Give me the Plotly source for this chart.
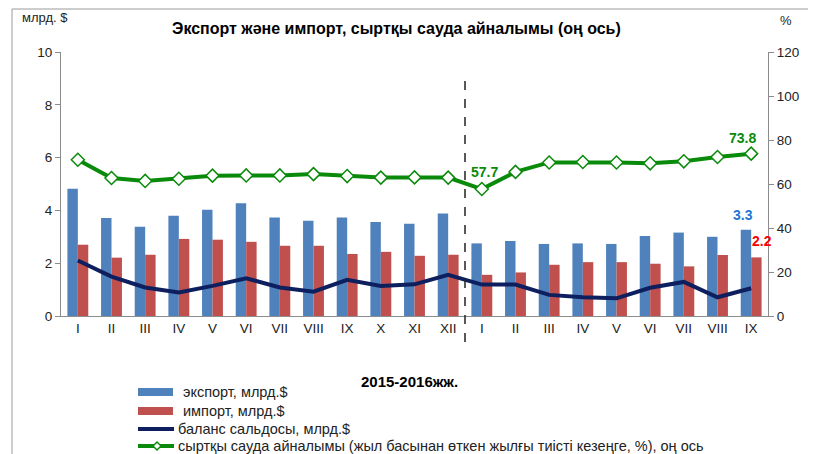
import plotly.graph_objects as go

months = ["I", "II", "III", "IV", "V", "VI", "VII", "VIII", "IX", "X", "XI", "XII",
          "I", "II", "III", "IV", "V", "VI", "VII", "VIII", "IX"]
export = [4.82, 3.71, 3.38, 3.80, 4.02, 4.27, 3.73, 3.61, 3.73, 3.56, 3.49, 3.88,
          2.75, 2.84, 2.73, 2.75, 2.73, 3.03, 3.16, 3.00, 3.27]
imports = [2.70, 2.21, 2.32, 2.92, 2.89, 2.81, 2.66, 2.66, 2.35, 2.43, 2.28, 2.32,
           1.56, 1.65, 1.94, 2.04, 2.04, 1.98, 1.88, 2.31, 2.22]
balance = [2.10, 1.49, 1.08, 0.89, 1.14, 1.43, 1.08, 0.92, 1.37, 1.14, 1.20, 1.56,
           1.19, 1.19, 0.80, 0.71, 0.67, 1.07, 1.29, 0.71, 1.05]
turnover = [71.0, 62.7, 61.4, 62.4, 63.8, 63.9, 63.9, 64.5, 63.6, 62.9, 63.0, 62.9,
            57.7, 65.5, 69.8, 70.0, 69.8, 69.4, 70.3, 72.3, 73.8]

x = list(range(len(months)))
FONT = "Liberation Sans, Arial, sans-serif"
C_EXP = "#4F81BD"
C_IMP = "#C0504D"
C_BAL = "#0D1F5E"
C_TUR = "#0A8A0A"
AX = "#8C8C8C"

fig = go.Figure()
fig.add_trace(go.Bar(x=x, y=export, marker=dict(color=C_EXP, line=dict(width=0)),
                     name="экспорт, млрд.$", showlegend=False))
fig.add_trace(go.Bar(x=x, y=imports, marker=dict(color=C_IMP, line=dict(width=0)),
                     name="импорт, млрд.$", showlegend=False))
fig.add_trace(go.Scatter(x=x, y=balance, mode="lines", line=dict(color=C_BAL, width=4),
                         name="баланс сальдосы, млрд.$", showlegend=False))
fig.add_trace(go.Scatter(x=x, y=turnover, mode="lines+markers", yaxis="y2",
                         line=dict(color=C_TUR, width=4),
                         marker=dict(symbol="diamond", size=10, color="white",
                                     line=dict(color=C_TUR, width=1.5)),
                         name="сыртқы сауда айналымы", showlegend=False))

# page offset of the figure (body margin)
OFF = 8
W, H = 816 - OFF, 454 - OFF
# plot area in page pixels
L, R, T, B = 61, 768, 52, 316
def px(p):
    return (p - L) / (R - L)
def py(p):
    return (B - p) / (B - T)

fig.update_layout(
    width=W, height=H,
    margin=dict(l=L - OFF, r=W - (R - OFF), t=T - OFF, b=H - (B - OFF)),
    paper_bgcolor="white", plot_bgcolor="white",
    barmode="group", bargap=0.38, bargroupgap=0,
    font=dict(family=FONT, size=13, color="#222222"),
    showlegend=False,
    xaxis=dict(range=[-0.5, len(months) - 0.5], tickmode="array", tickvals=x,
               ticktext=months, showgrid=False, zeroline=False,
               showline=True, linecolor=AX, linewidth=1, ticks="",
               tickfont=dict(size=13.5)),
    yaxis=dict(range=[0, 10], dtick=2, showgrid=False, zeroline=False,
               showline=True, linecolor=AX, linewidth=1, ticks="outside",
               ticklen=5, tickcolor=AX, tickfont=dict(size=13.5)),
    yaxis2=dict(range=[0, 120], dtick=20, overlaying="y", side="right",
                showgrid=False, zeroline=False, showline=True, linecolor=AX,
                linewidth=1, ticks="outside", ticklen=5, tickcolor=AX,
                tickfont=dict(size=13.5)),
)

shapes = []
# outer frame
shapes.append(dict(type="rect", xref="paper", yref="paper",
                   x0=px(12), x1=px(840), y0=py(470), y1=py(9),
                   line=dict(color="#9A9A9A", width=1), fillcolor="rgba(0,0,0,0)",
                   layer="below"))
# separator between years
shapes.append(dict(type="line", xref="x", yref="paper", x0=11.5, x1=11.5,
                   y0=py(342), y1=py(78), line=dict(color="#222222", width=1.5,
                                                    dash="dash")))
# legend symbols
LY = [392, 411, 429, 446]
shapes.append(dict(type="rect", xref="paper", yref="paper", x0=px(138), x1=px(173),
                   y0=py(LY[0] + 4), y1=py(LY[0] - 4), fillcolor=C_EXP, line=dict(width=0)))
shapes.append(dict(type="rect", xref="paper", yref="paper", x0=px(138), x1=px(173),
                   y0=py(LY[1] + 4), y1=py(LY[1] - 4), fillcolor=C_IMP, line=dict(width=0)))
shapes.append(dict(type="line", xref="paper", yref="paper", x0=px(138), x1=px(174),
                   y0=py(LY[2]), y1=py(LY[2]), line=dict(color=C_BAL, width=4)))
shapes.append(dict(type="line", xref="paper", yref="paper", x0=px(138), x1=px(174),
                   y0=py(LY[3]), y1=py(LY[3]), line=dict(color=C_TUR, width=4)))
cx, cy, d = 157, LY[3], 4
diamond = "M {},{} L {},{} L {},{} L {},{} Z".format(
    px(cx - d), py(cy), px(cx), py(cy - d), px(cx + d), py(cy), px(cx), py(cy + d))
shapes.append(dict(type="path", xref="paper", yref="paper", path=diamond,
                   fillcolor="white", line=dict(color=C_TUR, width=1.5)))
fig.update_layout(shapes=shapes)

ann = []
ann.append(dict(text="<b>Экспорт және импорт, сыртқы сауда айналымы (оң ось)</b>",
                xref="paper", yref="paper", x=px(396), y=py(28), showarrow=False,
                font=dict(size=16, color="black"), xanchor="center", yanchor="middle"))
ann.append(dict(text="млрд. $", xref="paper", yref="paper", x=px(20), y=py(18),
                showarrow=False, font=dict(size=13), xanchor="left", yanchor="middle"))
ann.append(dict(text="%", xref="paper", yref="paper", x=px(786), y=py(20),
                showarrow=False, font=dict(size=13), xanchor="center", yanchor="middle"))
ann.append(dict(text="<b>2015-2016жж.</b>", xref="paper", yref="paper", x=px(409),
                y=py(381), showarrow=False, font=dict(size=15, color="black"),
                xanchor="center", yanchor="middle"))
legend_texts = [("экспорт, млрд.$", 181, LY[0]), ("импорт, млрд.$", 181, LY[1]),
                ("баланс сальдосы, млрд.$", 176, LY[2]),
                ("сыртқы сауда айналымы (жыл басынан өткен жылғы тиісті кезеңге, %), оң ось", 176, LY[3])]
for t, lx, ly in legend_texts:
    ann.append(dict(text=t, xref="paper", yref="paper", x=px(lx), y=py(ly),
                    showarrow=False, font=dict(size=14.5), xanchor="left",
                    yanchor="middle"))
# data labels
i16 = 12
last = len(months) - 1
ann.append(dict(text="<b>%.1f</b>" % turnover[i16], x=i16, y=turnover[i16], xref="x",
                yref="y2", showarrow=False, font=dict(size=14, color=C_TUR),
                xshift=3, yshift=17))
ann.append(dict(text="<b>%.1f</b>" % turnover[last], x=last, y=turnover[last], xref="x",
                yref="y2", showarrow=False, font=dict(size=14, color=C_TUR),
                xshift=-9, yshift=16))
ann.append(dict(text="<b>%.1f</b>" % export[last], x=last, y=export[last], xref="x",
                yref="y", showarrow=False, font=dict(size=14, color="#1F78D1"),
                xshift=-8, yshift=15))
ann.append(dict(text="<b>%.1f</b>" % imports[last], x=last, y=imports[last], xref="x",
                yref="y", showarrow=False, font=dict(size=14, color="#FF0000"),
                xshift=11, yshift=16))
fig.update_layout(annotations=ann)

fig.write_html("out.html")
